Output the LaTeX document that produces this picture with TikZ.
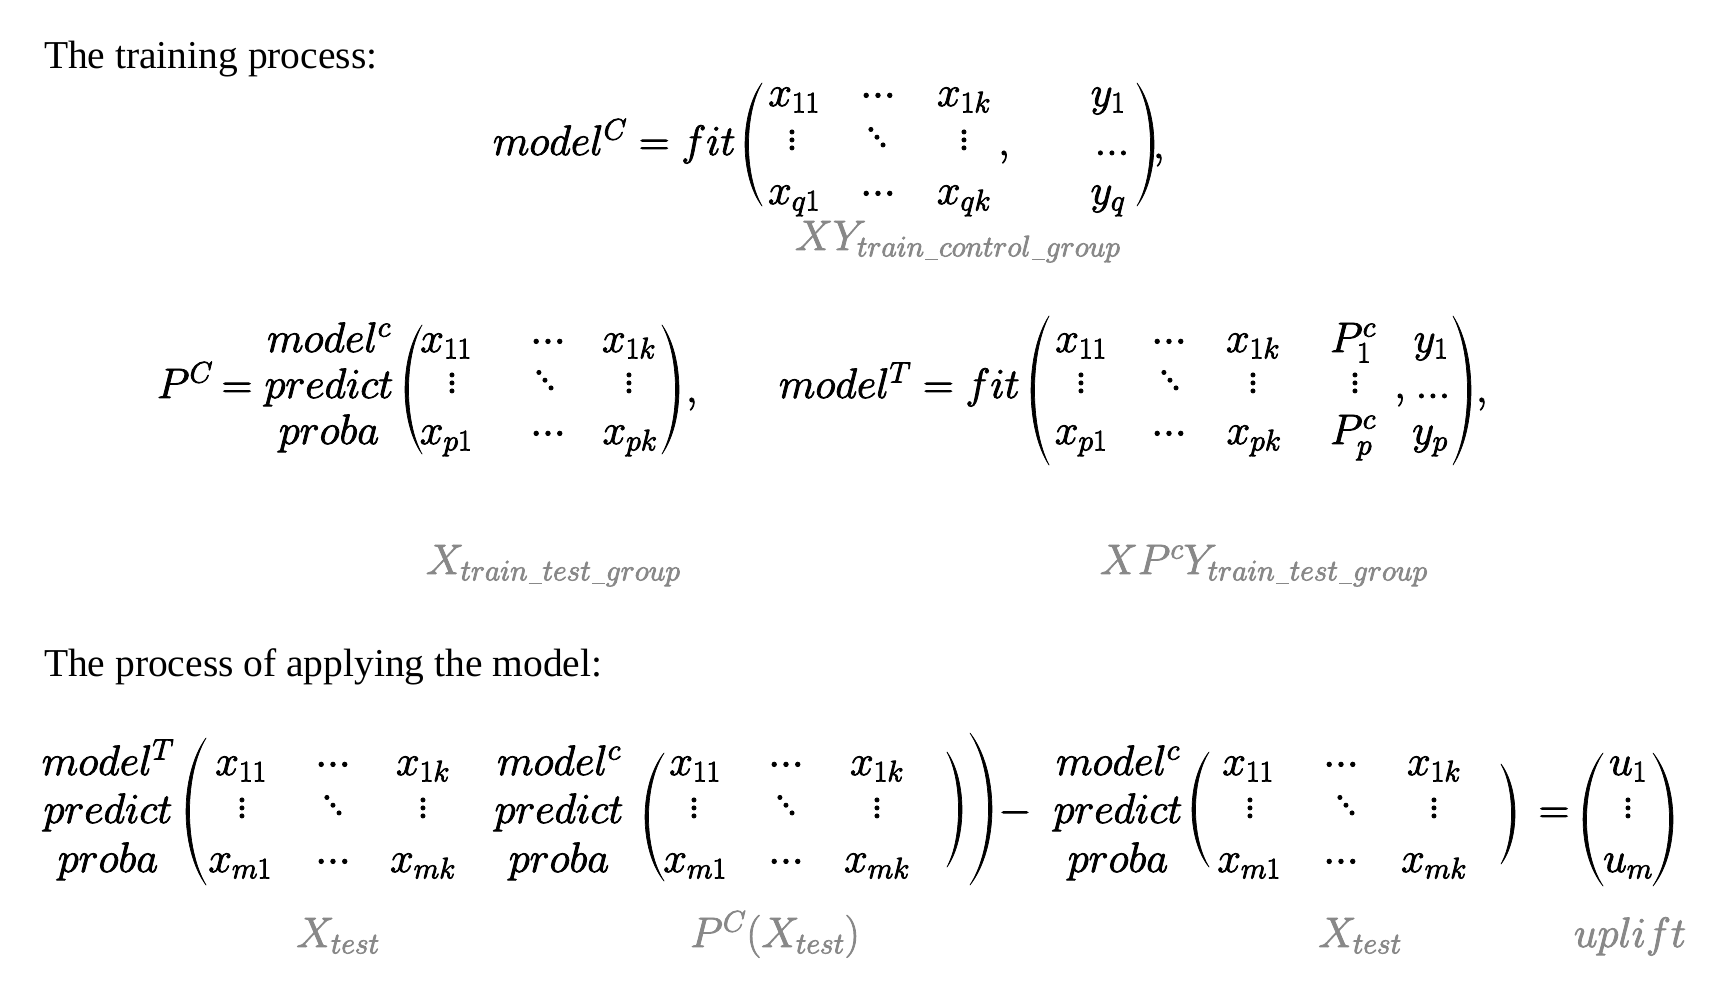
\RequirePackage{fix-cm}
\documentclass[tikz,border=0pt]{standalone}
\usepackage{fontspec}
\newfontfamily\timesfont{Liberation Serif}
\definecolor{labgray}{RGB}{136,136,136}
\newcommand\fakebold{\special{pdf:literal direct 2 Tr 0.8 w}}
\newcommand\fakeboldoff{\special{pdf:literal direct 0 Tr}}
\newcommand\mathfont{\fontsize{42.5}{51}\selectfont\fakebold}
\newcommand\headfont{\timesfont\fontsize{39.5}{47}\selectfont}
\newcommand\mycd{\mathord{\cdot}\mathord{\cdot}\mathord{\cdot}}
\newcommand\myld{\mathord{.}\mathord{.}\mathord{.}}
\newcommand\myvd{\vbox{\baselineskip=8pt\lineskiplimit=-100pt\hbox{$.$}\hbox{$.$}\hbox{$.$}}}
\newcommand\mydd{\hbox{\raise15.5pt\hbox{$.$}\kern-5.5pt\raise7.75pt\hbox{$.$}\kern-5.5pt\hbox{$.$}}}
\newcommand\us{\mathord{\kern1pt\rule[-4pt]{13pt}{1.6pt}\kern1pt}}
% #1 end x, #2 top y, #3 bottom y, #4 bulge
\newcommand\LPar[4]{\fill[black,draw=black,line width=0.7pt,line join=round]
  (#1,#2) .. controls ({#1-1.33*#4},{#2+0.25*(#3-#2)}) and ({#1-1.33*#4},{#3-0.25*(#3-#2)}) .. (#1,#3)
  .. controls ({#1-1.33*#4+4.6},{#3-0.25*(#3-#2)}) and ({#1-1.33*#4+4.6},{#2+0.25*(#3-#2)}) .. (#1,#2) -- cycle;}
\newcommand\RPar[4]{\fill[black,draw=black,line width=0.7pt,line join=round]
  (#1,#2) .. controls ({#1+1.33*#4},{#2+0.25*(#3-#2)}) and ({#1+1.33*#4},{#3-0.25*(#3-#2)}) .. (#1,#3)
  .. controls ({#1+1.33*#4-4.6},{#3-0.25*(#3-#2)}) and ({#1+1.33*#4-4.6},{#2+0.25*(#3-#2)}) .. (#1,#2) -- cycle;}
\tikzset{
  M/.style={inner sep=0pt,outer sep=0pt,anchor=base,font=\mathfont,execute at end node=\fakeboldoff},
  MW/.style={M,anchor=base west},
  G/.style={M,text=labgray},
  GW/.style={G,anchor=base west},
  H/.style={inner sep=0pt,outer sep=0pt,anchor=base west,font=\headfont},
}
\begin{document}
\begin{tikzpicture}[x=1pt,y=-1pt]
\fill[white] (0,0) rectangle (1728,990);
\useasboundingbox (0,0) rectangle (1728,990);
% headings
\node[H] (h1) at (44,68) {The training process:};
\node[H] (h2) at (44,676) {The process of applying the model:};
% ---------- equation 1
\node[MW] (e1l) at (493,155) {$model^C = fit$};
\LPar{762}{83}{206}{17}
\node[M] (a11) at (794,106) {$x_{11}$};
\node[M] (a12) at (878,106) {$\mycd$};
\node[M] (a13) at (964,106) {$x_{1k}$};
\node[M] (a14) at (1108,106) {$y_1$};
\node[M] (a21) at (792,150) {\myvd};
\node[M] (a22) at (877,147) {\mydd};
\node[M] (a23) at (964,150) {\myvd};
\node[M] (a2c) at (1004,155) {$,$};
\node[M] (a24) at (1112,155) {$\myld$};
\node[M] (a31) at (794,204) {$x_{q1}$};
\node[M] (a32) at (878,204) {$\mycd$};
\node[M] (a33) at (964,204) {$x_{qk}$};
\node[M] (a34) at (1108,204) {$y_q$};
\RPar{1137}{83}{206}{17}
\node[MW] (a5c) at (1153,158) {$,$};
\node[GW] (l1) at (795,250) {$XY_{train\us control\us group}$};
% ---------- equation 2 left
\node[MW] (p0) at (157,398) {$P^C$};
\node[M] (p1) at (237,398) {$=$};
\node[M] (s2a) at (329,352) {$model^c$};
\node[M] (s2b) at (329,398) {$predict$};
\node[M] (s2c) at (329,444) {$proba$};
\LPar{422}{325}{454}{17}
\node[M] (b11) at (446,352) {$x_{11}$};
\node[M] (b12) at (548,352) {$\mycd$};
\node[M] (b13) at (629,352) {$x_{1k}$};
\node[M] (b21) at (452,393) {\myvd};
\node[M] (b22) at (545,390) {\mydd};
\node[M] (b23) at (629,393) {\myvd};
\node[M] (b31) at (446,444) {$x_{p1}$};
\node[M] (b32) at (548,444) {$\mycd$};
\node[M] (b33) at (630,444) {$x_{pk}$};
\RPar{662}{325}{454}{17}
\node[MW] (b5c) at (686,402) {$,$};
% ---------- equation 2 right
\node[MW] (q0) at (779,398) {$model^T = fit$};
\LPar{1049}{316}{465}{18}
\node[M] (c11) at (1081,352) {$x_{11}$};
\node[M] (c12) at (1169,352) {$\mycd$};
\node[M] (c13) at (1253,352) {$x_{1k}$};
\node[M] (c14) at (1353,352) {$P^c_1$};
\node[M] (c15) at (1431,352) {$y_1$};
\node[M] (c21) at (1081,393) {\myvd};
\node[M] (c22) at (1170,390) {\mydd};
\node[M] (c23) at (1253,393) {\myvd};
\node[M] (c24) at (1355,393) {\myvd};
\node[M] (c2c) at (1400,398) {$,$};
\node[M] (c25) at (1433,398) {$\myld$};
\node[M] (c31) at (1081,444) {$x_{p1}$};
\node[M] (c32) at (1169,444) {$\mycd$};
\node[M] (c33) at (1254,444) {$x_{pk}$};
\node[M] (c34) at (1353,444) {$P^c_p$};
\node[M] (c35) at (1430,444) {$y_p$};
\RPar{1453}{316}{465}{18}
\node[MW] (c5c) at (1476,402) {$,$};
\node[GW] (l2) at (426,574) {$X_{train\us test\us group}$};
\node[GW] (l3) at (1100,574) {$XP^cY_{train\us test\us group}$};
% ---------- equation 3
\node[M] (s3a) at (108,775) {$model^T$};
\node[M] (s3b) at (108,823) {$predict$};
\node[M] (s3c) at (108,872) {$proba$};
\LPar{206}{738}{885}{20}
\node[M] (d11) at (241,775) {$x_{11}$};
\node[M] (d12) at (333,775) {$\mycd$};
\node[M] (d13) at (423,775) {$x_{1k}$};
\node[M] (d21) at (242,818) {\myvd};
\node[M] (d22) at (333,815) {\mydd};
\node[M] (d23) at (423,818) {\myvd};
\node[M] (d31) at (240,872) {$x_{m1}$};
\node[M] (d32) at (333,872) {$\mycd$};
\node[M] (d33) at (423,872) {$x_{mk}$};
\node[M] (s4a) at (559,775) {$model^c$};
\node[M] (s4b) at (559,823) {$predict$};
\node[M] (s4c) at (559,872) {$proba$};
\LPar{664}{753}{881}{19}
\node[M] (e11) at (695,775) {$x_{11}$};
\node[M] (e12) at (786,775) {$\mycd$};
\node[M] (e13) at (877,775) {$x_{1k}$};
\node[M] (e21) at (694,818) {\myvd};
\node[M] (e22) at (786,815) {\mydd};
\node[M] (e23) at (877,818) {\myvd};
\node[M] (e31) at (695,872) {$x_{m1}$};
\node[M] (e32) at (786,872) {$\mycd$};
\node[M] (e33) at (877,872) {$x_{mk}$};
\RPar{947}{752}{867}{15}
\RPar{970}{733}{885}{22}
\node[M] (mi) at (1015,823) {$-$};
\node[M] (s5a) at (1118,775) {$model^c$};
\node[M] (s5b) at (1118,823) {$predict$};
\node[M] (s5c) at (1118,872) {$proba$};
\LPar{1209}{752}{867}{17}
\node[M] (f11) at (1248,775) {$x_{11}$};
\node[M] (f12) at (1341,775) {$\mycd$};
\node[M] (f13) at (1434,775) {$x_{1k}$};
\node[M] (f21) at (1250,818) {\myvd};
\node[M] (f22) at (1346,815) {\mydd};
\node[M] (f23) at (1434,818) {\myvd};
\node[M] (f31) at (1249,872) {$x_{m1}$};
\node[M] (f32) at (1341,872) {$\mycd$};
\node[M] (f33) at (1434,872) {$x_{mk}$};
\RPar{1501}{764}{864}{14}
\node[M] (eq) at (1554,823) {$=$};
\LPar{1603}{753}{886}{20}
\node[M] (u1) at (1628,775) {$u_1$};
\node[M] (u2) at (1628,818) {\myvd};
\node[M] (u3) at (1628,872) {$u_m$};
\RPar{1653}{753}{886}{20}
% labels
\node[G] (l4) at (338,947) {$X_{test}$};
\node[G] (l5) at (775,947) {$P^C(X_{test})$};
\node[G] (l6) at (1360,947) {$X_{test}$};
\node[G] (l7) at (1630,947) {$uplift$};
\end{tikzpicture}
\end{document}
